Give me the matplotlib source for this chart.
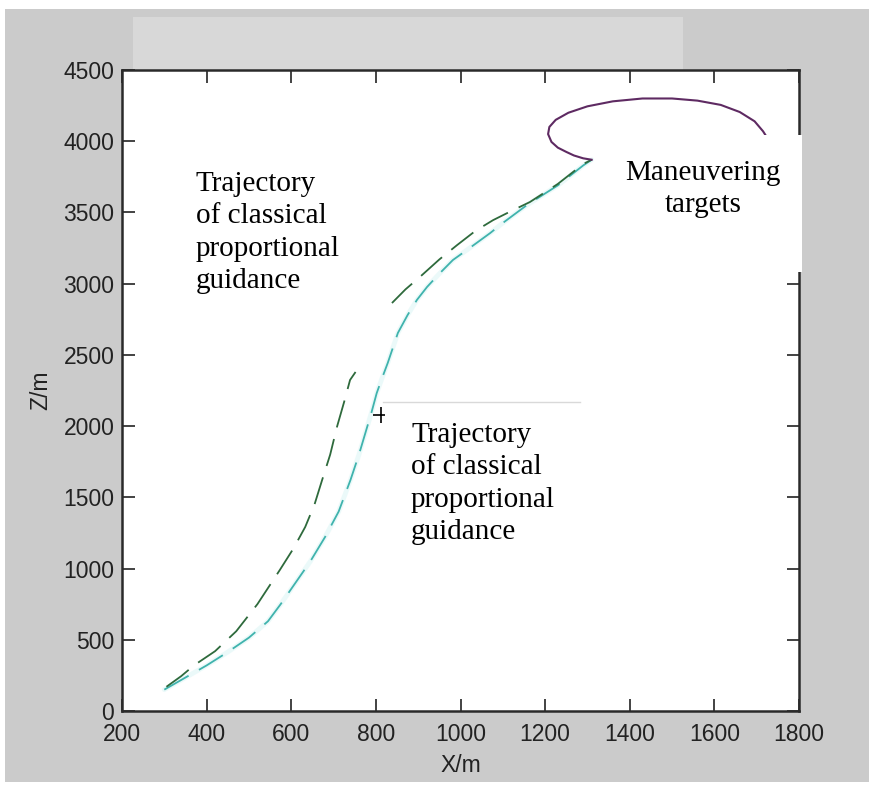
import matplotlib
matplotlib.use("Agg")
import matplotlib.pyplot as plt
from matplotlib.patches import Rectangle

W, H, DPI = 869, 789, 100

# Classical proportional guidance trajectory (dark green), two visible pieces
pn_low_x = [305, 340, 370, 420, 470, 520, 573, 605, 633, 655, 673, 692, 708, 725, 739, 752]
pn_low_z = [170, 245, 320, 420, 560, 750, 990, 1140, 1292, 1450, 1622, 1800, 1994, 2170, 2324, 2380]
pn_up_x = [838, 870, 904, 950, 992, 1035, 1077, 1120, 1164, 1230, 1290, 1310]
pn_up_z = [2864, 2960, 3047, 3170, 3271, 3370, 3446, 3510, 3573, 3700, 3840, 3870]

# Second guidance trajectory (teal)
ig_x = [300, 350, 400, 448, 500, 545, 575, 610, 645, 680, 712, 740, 760, 775, 790, 802, 815, 828,
        852, 875, 897, 921, 950, 982, 1015, 1070, 1100, 1157, 1230, 1290, 1310]
ig_z = [150, 235, 320, 410, 515, 630, 750, 900, 1050, 1222, 1400, 1622, 1800, 1950, 2100, 2232, 2340, 2443,
        2654, 2780, 2886, 2977, 3070, 3166, 3236, 3355, 3426, 3552, 3690, 3830, 3870]

# Maneuvering target path (purple)
tg_x = [1310, 1290, 1268, 1250, 1230, 1215, 1207, 1210, 1225, 1255, 1300, 1360, 1430, 1500,
        1560, 1615, 1660, 1695, 1715, 1730]
tg_z = [3870, 3880, 3900, 3925, 3955, 3995, 4050, 4100, 4150, 4200, 4245, 4280, 4300, 4300,
        4285, 4255, 4205, 4140, 4070, 4000]

# Black cross marker on the lower trajectory
mk_x = [812]
mk_z = [2078]

x_ticks = [200, 400, 600, 800, 1000, 1200, 1400, 1600, 1800]
z_ticks = [0, 500, 1000, 1500, 2000, 2500, 3000, 3500, 4000, 4500]

label_upper = ["Trajectory", "of classical", "proportional", "guidance"]
label_lower = ["Trajectory", "of classical", "proportional", "guidance"]
label_target = ["Maneuvering", "targets"]

tick_font = ["Liberation Sans Narrow", "Liberation Sans", "DejaVu Sans"]
serif_font = ["Liberation Serif", "DejaVu Serif"]


def fx(px):
    return px / W


def fy(py):
    return 1 - py / H


fig = plt.figure(figsize=(W / DPI, H / DPI), dpi=DPI, facecolor="white")

# window background and the lighter strip above the plot
fig.add_artist(Rectangle((fx(5), fy(782)), fx(869) - fx(5), fy(9) - fy(782),
                         transform=fig.transFigure, facecolor="#cbcbcb",
                         edgecolor="none", zorder=0))
fig.add_artist(Rectangle((fx(133), fy(70)), fx(683) - fx(133), fy(17) - fy(70),
                         transform=fig.transFigure, facecolor="#d8d8d8",
                         edgecolor="none", zorder=0))

ax = fig.add_axes([fx(122), fy(711), fx(799) - fx(122), fy(70) - fy(711)])
ax.set_zorder(1)
ax.set_facecolor("white")
ax.set_xlim(200, 1800)
ax.set_ylim(0, 4500)
ax.set_xticks(x_ticks)
ax.set_yticks(z_ticks)
ax.set_xticklabels([str(v) for v in x_ticks], family=tick_font, fontsize=16.5, color="#222222")
ax.set_yticklabels([str(v) for v in z_ticks], family=tick_font, fontsize=16.5, color="#222222")
ax.tick_params(direction="in", length=9, width=1.2, color="#222222",
               top=True, right=True)
ax.tick_params(axis="x", pad=8.5)
ax.tick_params(axis="y", pad=5.5)
for s in ax.spines.values():
    s.set_linewidth(1.8)
    s.set_color("#2a2a2a")

ax.set_xlabel("X/m", family=tick_font, fontsize=16.5, color="#222222", labelpad=6)
ax.set_ylabel("Z/m", family=tick_font, fontsize=16.5, color="#222222", labelpad=8)

dash = (15.5, 6.6)
ax.plot(ig_x, ig_z, color="#d8f5f5", lw=3.5, alpha=0.5, solid_capstyle="round", zorder=2)
ax.plot(ig_x, ig_z, color="#3fb3ad", lw=1.3, dashes=dash, zorder=3)
ax.plot(pn_low_x, pn_low_z, color="#2e6a3c", lw=1.3, dashes=dash, zorder=3)
ax.plot(pn_up_x, pn_up_z, color="#2e6a3c", lw=1.3, dashes=dash, zorder=3)
ax.plot(tg_x, tg_z, color="#5e2a62", lw=1.5, zorder=3)
ax.plot(mk_x, mk_z, marker="+", color="black", ms=11, mew=1.2, ls="none", zorder=3)

# pasted white label box with a faint top edge
fig.add_artist(Rectangle((fx(385), fy(560)), fx(580) - fx(385), fy(402) - fy(560),
                         transform=fig.transFigure, facecolor="white",
                         edgecolor="none", zorder=5))
fig.add_artist(plt.Line2D([fx(383), fx(580)], [fy(402), fy(402)],
                          transform=fig.transFigure, color="#d9d9d9", lw=1, zorder=6))

# box around the target label, over the right spine
fig.add_artist(Rectangle((fx(612), fy(272)), fx(802) - fx(612), fy(135) - fy(272),
                         transform=fig.transFigure, facecolor="white",
                         edgecolor="none", zorder=5))

fig.text(fx(196), fy(171), "\n".join(label_upper), family=serif_font, fontsize=21,
         ha="left", va="top", linespacing=1.32, color="black", zorder=7)
fig.text(fx(411), fy(422), "\n".join(label_lower), family=serif_font, fontsize=21,
         ha="left", va="top", linespacing=1.32, color="black", zorder=7)
fig.text(fx(703), fy(160), "\n".join(label_target), family=serif_font, fontsize=21,
         ha="center", va="top", linespacing=1.32, color="black", zorder=7)

fig.savefig("out.png", dpi=DPI, facecolor="white")
